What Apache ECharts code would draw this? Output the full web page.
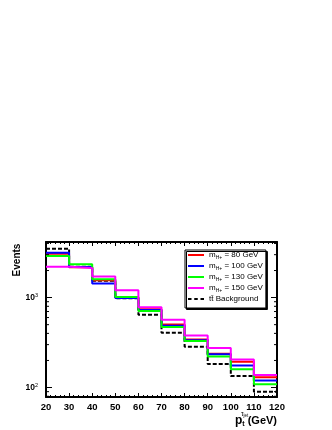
<!DOCTYPE html>
<html>
<head>
<meta charset="utf-8">
<script src="https://cdn.jsdelivr.net/npm/echarts@6/dist/echarts.min.js"></script>
<style>
  html, body { margin: 0; padding: 0; background: #fff; }
  #main { width: 332px; height: 430px; }
</style>
</head>
<body>
<div id="main"></div>
<script>
// bin edges of the pt(tau jet) histograms (GeV)
const binEdges = [20, 30, 40, 50, 60, 70, 80, 90, 100, 110, 120];
// events per bin
const m80Counts  = [3075, 2180, 1556, 1005, 744, 502, 342, 237, 194, 130];
const m100Counts = [3155, 2190, 1433, 992, 729, 486, 335, 234, 176, 120];
const m130Counts = [2898, 2347, 1596, 1013, 710, 471, 330, 222, 160, 109];
const m150Counts = [2200, 2128, 1716, 1209, 783, 567, 380, 275, 205, 138];
const bkgCounts  = [3500, 2200, 1540, 985, 646, 406, 284, 183, 134, 90];

const massLabels = ['80', '100', '130', '150'];
const bkgLabel = 'tt\u0304 Background';

// y axis range and log minor ticks
const yMin = 78.5, yMax = 4150;
const yMinorTicks = [80, 90, 200, 300, 400, 500, 600, 700, 800, 900, 2000, 3000, 4000];

const FONT = '"Liberation Sans", Arial, Helvetica, sans-serif';

// legend line icons (solid / dashed)
const solidIcon = 'path://M0,0h16v2h-16z';
const dashIcon = 'path://M0,0h3.5v2h-3.5zM6.25,0h3.5v2h-3.5zM12.5,0h3.5v2h-3.5z';

// histogram -> step points (last bin repeated to close at the right edge)
function histPoints(counts) {
  return binEdges.map((x, i) => [x, counts[Math.min(i, counts.length - 1)]]);
}

const chart = echarts.init(document.getElementById('main'), null, { renderer: 'canvas' });

const histColors = ['#ff0000', '#0000ff', '#00ff00', '#ff00ff'];
const massCounts = [m80Counts, m100Counts, m130Counts, m150Counts];
const names = massLabels.map(m => 'm' + m).concat(['bkg']);

const series = [];
// background first, signal curves drawn on top
series.push({
  name: 'bkg', type: 'line', step: 'end', symbol: 'none', z: 2,
  data: histPoints(bkgCounts),
  lineStyle: { color: '#000', width: 2, type: [4, 2] },
  itemStyle: { color: '#000' }
});
massCounts.forEach((c, i) => {
  series.push({
    name: names[i], type: 'line', step: 'end', symbol: 'none', z: 3 + i,
    data: histPoints(c),
    lineStyle: { color: histColors[i], width: 2 },
    itemStyle: { color: histColors[i] }
  });
});
// log minor ticks on left and right frame
series.push({
  type: 'custom', silent: true, z: 10,
  data: yMinorTicks.map(v => [binEdges[0], v]),
  encode: { x: 0, y: 1 },
  renderItem: function (params, api) {
    const v = api.value(1);
    const pl = api.coord([binEdges[0], v]);
    const pr = api.coord([binEdges[binEdges.length - 1], v]);
    return {
      type: 'group',
      children: [
        { type: 'line', shape: { x1: pl[0], y1: pl[1], x2: pl[0] + 3, y2: pl[1] }, style: { stroke: '#000', lineWidth: 1 } },
        { type: 'line', shape: { x1: pr[0] - 3, y1: pr[1], x2: pr[0], y2: pr[1] }, style: { stroke: '#000', lineWidth: 1 } }
      ]
    };
  }
});

function isDecade(v) {
  const e = Math.round(Math.log10(v));
  return Math.abs(v - Math.pow(10, e)) < 1e-6 * v ? e : null;
}

const xAxisCommon = {
  type: 'value', min: 20, max: 120, interval: 10,
  axisLine: { onZero: false, lineStyle: { color: '#000', width: 2 } },
  axisTick: { inside: true, length: 4, lineStyle: { color: '#000', width: 1 } },
  minorTick: { show: true, splitNumber: 5, length: 2, lineStyle: { color: '#000', width: 1 } },
  splitLine: { show: false }
};
const yAxisCommon = {
  type: 'log', logBase: 10, min: yMin, max: yMax,
  axisLine: { onZero: false, lineStyle: { color: '#000', width: 2 } },
  axisTick: { inside: true, length: 6, lineStyle: { color: '#000', width: 1 } },
  splitLine: { show: false }
};

const option = {
  animation: false,
  backgroundColor: '#fff',
  grid: { left: 46, right: 55, top: 242, bottom: 33 },
  xAxis: [
    Object.assign({}, xAxisCommon, {
      position: 'bottom',
      axisLabel: {
        margin: 5, color: '#000', fontSize: 9.5, fontWeight: 'bold', fontFamily: FONT
      }
    }),
    Object.assign({}, xAxisCommon, { position: 'top', axisLabel: { show: false } })
  ],
  yAxis: [
    Object.assign({}, yAxisCommon, {
      position: 'left',
      axisLabel: {
        margin: 8, color: '#000',
        formatter: function (v) {
          const e = isDecade(v);
          return e === null ? '' : '{b|10}{sup|' + e + '}';
        },
        rich: {
          b: { fontSize: 8.5, fontWeight: 'bold', fontFamily: FONT, lineHeight: 11, color: '#000' },
          sup: { fontSize: 5.5, fontFamily: FONT, verticalAlign: 'top', lineHeight: 11, color: '#000' }
        }
      }
    }),
    Object.assign({}, yAxisCommon, { position: 'right', axisLabel: { show: false } })
  ],
  legend: {
    data: names.map(n => ({ name: n, icon: n === 'bkg' ? dashIcon : solidIcon })),
    orient: 'vertical',
    left: 185, top: 250,
    padding: [1, 3, 5, 3],
    itemWidth: 16, itemHeight: 10, itemGap: 2,
    backgroundColor: '#fff',
    borderColor: '#000', borderWidth: 1,
    shadowColor: '#000', shadowBlur: 0, shadowOffsetX: 1.5, shadowOffsetY: 1.5,
    selectedMode: false,
    formatter: function (name) {
      const i = names.indexOf(name);
      if (i < massLabels.length) {
        return '{m|m}{sub|H+}{m| = ' + massLabels[i] + ' GeV}';
      }
      return '{m|' + bkgLabel + '}';
    },
    textStyle: {
      color: '#000', fontFamily: FONT, fontSize: 8,
      rich: {
        m: { fontSize: 8, fontFamily: FONT, color: '#000', lineHeight: 10 },
        sub: { fontSize: 5, fontFamily: FONT, color: '#000', verticalAlign: 'bottom', lineHeight: 10 }
      }
    }
  },
  graphic: [
    {
      type: 'text', x: 17, y: 260, rotation: Math.PI / 2,
      style: {
        text: 'Events', align: 'center', verticalAlign: 'middle',
        font: 'bold 10px ' + FONT, fill: '#000'
      }
    },
    {
      type: 'text', x: 277, y: 421,
      style: {
        text: '{p|p}{t|t}{g| (GeV)}', align: 'right', verticalAlign: 'middle',
        rich: {
          p: { fontSize: 12, fontWeight: 'bold', fontFamily: FONT, fill: '#000', lineHeight: 14 },
          t: { fontSize: 7, fontWeight: 'bold', fontFamily: FONT, fill: '#000', lineHeight: 14, verticalAlign: 'bottom' },
          g: { fontSize: 11, fontWeight: 'bold', fontFamily: FONT, fill: '#000', lineHeight: 14 }
        }
      }
    },
    {
      type: 'text', x: 241, y: 414,
      style: {
        text: '{tau|\u03C4}{jet|jet}', align: 'left', verticalAlign: 'middle',
        rich: {
          tau: { fontSize: 6.5, fontFamily: FONT, fill: '#000', lineHeight: 8 },
          jet: { fontSize: 4.5, fontFamily: FONT, fill: '#000', lineHeight: 8, verticalAlign: 'bottom' }
        }
      }
    }
  ],
  series: series
};

chart.setOption(option);
</script>
</body>
</html>
